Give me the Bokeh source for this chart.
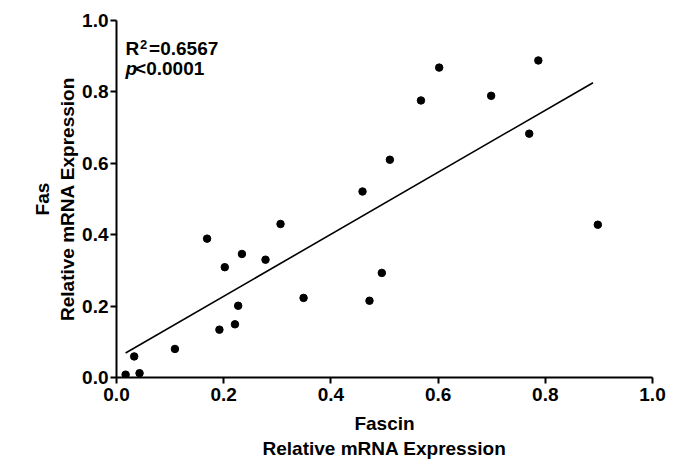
import numpy as np
from bokeh.plotting import figure
from bokeh.models import Label, Range1d, FixedTicker
from bokeh.embed import file_html
from bokeh.resources import INLINE

fascin = [0.017, 0.033, 0.043, 0.109, 0.169, 0.192, 0.202, 0.221, 0.227, 0.234,
          0.278, 0.306, 0.349, 0.459, 0.472, 0.495, 0.510, 0.568, 0.602, 0.699,
          0.770, 0.787, 0.898]
fas = [0.008, 0.059, 0.012, 0.080, 0.389, 0.134, 0.309, 0.149, 0.201, 0.346,
       0.330, 0.430, 0.223, 0.521, 0.215, 0.293, 0.610, 0.776, 0.868, 0.789,
       0.683, 0.888, 0.428]
ticks = [0.0, 0.2, 0.4, 0.6, 0.8, 1.0]
r2_value = "=0.6567"
p_value = "<0.0001"

FONT = "Liberation Sans"

p = figure(width=684, height=471, output_backend="svg", toolbar_location=None,
           x_range=Range1d(0, 1), y_range=Range1d(0, 1),
           min_border_left=116, min_border_right=32, min_border_top=20, min_border_bottom=94)
p.outline_line_color = None
p.grid.visible = False
p.background_fill_color = "white"
p.border_fill_color = "white"

for ax in (p.xaxis[0], p.yaxis[0]):
    ax.ticker = FixedTicker(ticks=ticks)
    ax.axis_line_width = 2
    ax.major_tick_line_width = 2
    ax.major_tick_out = 6
    ax.major_tick_in = 0
    ax.minor_tick_line_color = None
    ax.major_label_text_font = FONT
    ax.major_label_text_font_style = "bold"
    ax.major_label_text_font_size = "19px"
    ax.major_label_text_color = "black"
    ax.axis_label_text_font = FONT
    ax.axis_label_text_font_style = "bold"
    ax.axis_label_text_font_size = "19px"
    ax.axis_label_text_color = "black"
    ax.axis_line_color = "black"
    ax.major_tick_line_color = "black"
    ax.major_label_overrides = {t: f"{t:.1f}" for t in ticks}

p.xaxis.axis_label = "Fascin\nRelative mRNA Expression"
p.yaxis.axis_label = "Fas\nRelative mRNA Expression"
p.xaxis.major_label_standoff = 4
p.yaxis.major_label_standoff = 2
p.xaxis.axis_label_standoff = 9
p.yaxis.axis_label_standoff = 1

# regression line
slope, intercept = np.polyfit(fascin, fas, 1)
xs = np.array([min(fascin), max(fascin) - 0.009])
p.line(xs, slope * xs + intercept, line_color="black", line_width=1.6)

p.scatter(fascin, fas, size=7.5, fill_color="black", line_color="black")

common = dict(text_font=FONT, text_color="black", text_baseline="alphabetic")
p.add_layout(Label(x=0.017, y=0.9215, text="R", text_font_style="bold",
                   text_font_size="19px", **common))
p.add_layout(Label(x=0.017, y=0.9215, x_offset=14.5, y_offset=4, text="2",
                   text_font_style="bold", text_font_size="13px", **common))
p.add_layout(Label(x=0.017, y=0.9215, x_offset=23.5, text=r2_value,
                   text_font_style="bold", text_font_size="19px", **common))
p.add_layout(Label(x=0.017, y=0.866, text="p", text_font_style="bold italic",
                   text_font_size="19px", **common))
p.add_layout(Label(x=0.017, y=0.866, x_offset=9.5, text=p_value,
                   text_font_style="bold", text_font_size="19px", **common))

open("out.html", "w").write(file_html(p, INLINE))
